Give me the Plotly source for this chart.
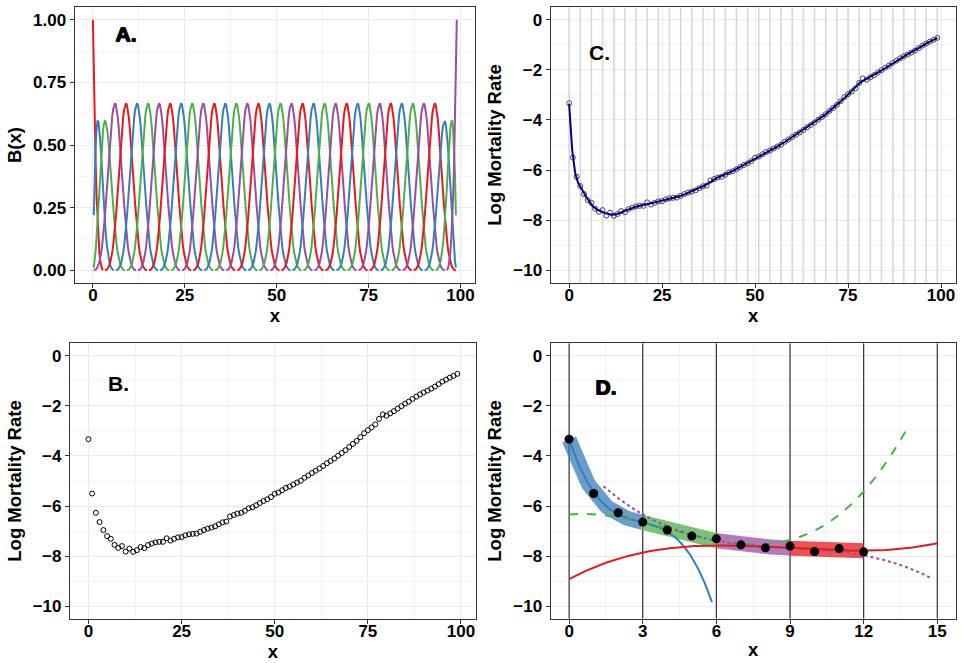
import numpy as np
import plotly.graph_objects as go

# log mortality rates by single year of age
age = list(range(100))
log_rate = [
    -3.33, -5.50, -6.27, -6.64, -6.96, -7.20, -7.31, -7.55, -7.67, -7.60,
    -7.82, -7.70, -7.83, -7.76, -7.64, -7.68, -7.56, -7.50, -7.45, -7.43,
    -7.43, -7.29, -7.38, -7.31, -7.25, -7.24, -7.17, -7.13, -7.11, -7.10,
    -7.03, -6.96, -6.90, -6.86, -6.81, -6.73, -6.65, -6.62, -6.42, -6.36,
    -6.30, -6.27, -6.19, -6.09, -6.05, -5.97, -5.88, -5.80, -5.73, -5.64,
    -5.51, -5.46, -5.37, -5.28, -5.22, -5.14, -5.06, -4.99, -4.87, -4.78,
    -4.68, -4.59, -4.50, -4.40, -4.29, -4.20, -4.10, -3.99, -3.88, -3.77,
    -3.64, -3.52, -3.40, -3.25, -3.09, -2.97, -2.86, -2.74, -2.52, -2.34,
    -2.39, -2.30, -2.21, -2.11, -2.01, -1.91, -1.83, -1.72, -1.63, -1.54,
    -1.46, -1.39, -1.31, -1.23, -1.13, -1.03, -0.95, -0.87, -0.80, -0.72,
]

# spline knots (every 3 years, 0..99)
knots = list(range(0, 100, 3))
set1 = ['#E41A1C', '#377EB8', '#4DAF4A', '#984EA3']

# panel D: local pieces (interval start) and how far each is extended
piece_start = [0, 3, 6, 9]
piece_from = [0.0, 0.0, 1.4, 0.0]
piece_to = [5.82, 13.8, 14.8, 15.0]
piece_dash = ['solid', 'dash', 'dot', 'solid']
zoom_ages = 13

tickfont = dict(family='Liberation Sans', size=17, color='black', weight='bold')
titlefont = dict(family='Liberation Sans', size=18.5, color='black', weight='bold')
labfont = dict(family='Liberation Sans', size=21, color='black', weight='bold')


def bs_basis(x, inner, deg=3):
    t = np.r_[[inner[0]] * deg, inner, [inner[-1]] * deg].astype(float)
    x = np.asarray(x, float)
    n = len(t) - 1
    B = np.zeros((len(x), n))
    for i in range(n):
        B[:, i] = (t[i] <= x) & (x < t[i + 1])
    last = np.where(t[:-1] < t[1:])[0][-1]
    B[x >= t[-1], last] = 1
    for k in range(1, deg + 1):
        Bn = np.zeros((len(x), n - k))
        for i in range(n - k):
            d1 = t[i + k] - t[i]
            d2 = t[i + k + 1] - t[i + 1]
            a = (x - t[i]) / d1 * B[:, i] if d1 > 0 else 0
            b = (t[i + k + 1] - x) / d2 * B[:, i + 1] if d2 > 0 else 0
            Bn[:, i] = a + b
        B = Bn
    return B


fig = go.Figure()

# ---- A. basis functions (zero parts not drawn)
xg = np.linspace(0, 99, 397)
Bg = bs_basis(xg, knots)
for j in range(Bg.shape[1]):
    yb = np.where(Bg[:, j] > 0, Bg[:, j], np.nan)
    fig.add_trace(go.Scatter(x=xg, y=yb, mode='lines', xaxis='x', yaxis='y',
                             line=dict(color=set1[j % 4], width=2), showlegend=False))

# ---- B. raw rates
fig.add_trace(go.Scatter(x=age, y=log_rate, mode='markers', xaxis='x3', yaxis='y3',
                         marker=dict(symbol='circle-open', size=5, color='black',
                                     line=dict(width=1)), showlegend=False))

# ---- C. spline fit
Bd = bs_basis(age, knots)
coef = np.linalg.lstsq(Bd, np.array(log_rate), rcond=None)[0]
xf = np.linspace(0, 99, 991)
yf = bs_basis(xf, knots) @ coef
for k in knots:
    fig.add_trace(go.Scatter(x=[k, k], y=[-10.5, 0.5], mode='lines', xaxis='x2', yaxis='y2',
                             line=dict(color='#D6D6D6', width=1.5), showlegend=False,
                             hoverinfo='skip'))
fig.add_trace(go.Scatter(x=age, y=log_rate, mode='markers', xaxis='x2', yaxis='y2',
                         marker=dict(symbol='circle-open', size=5, color='#444444',
                                     line=dict(width=1)), showlegend=False))
fig.add_trace(go.Scatter(x=xf, y=yf, mode='lines', xaxis='x2', yaxis='y2',
                         line=dict(color='#00008B', width=2), showlegend=False))

# ---- D. local pieces
for k in range(0, 16, 3):
    fig.add_trace(go.Scatter(x=[k, k], y=[-10.5, 0.5], mode='lines', xaxis='x4', yaxis='y4',
                             line=dict(color='#333333', width=1.2), showlegend=False,
                             hoverinfo='skip'))
polys = []
for s in piece_start:
    xs = np.linspace(s, s + 3, 7)
    polys.append(np.polyfit(xs, bs_basis(xs, knots) @ coef, 3))
for i, s in enumerate(piece_start):
    xb = np.linspace(s, s + 3, 60)
    fig.add_trace(go.Scatter(x=xb, y=np.polyval(polys[i], xb), mode='lines',
                             xaxis='x4', yaxis='y4', opacity=0.75,
                             line=dict(color=set1[(i + 1) % 4], width=15),
                             showlegend=False))
for i, s in enumerate(piece_start):
    xe = np.linspace(piece_from[i], piece_to[i], 300)
    ye = np.polyval(polys[i], xe)
    ye = np.where((ye < -10) | (ye > 0), np.nan, ye)
    fig.add_trace(go.Scatter(x=xe, y=ye, mode='lines', xaxis='x4', yaxis='y4',
                             line=dict(color=set1[(i + 1) % 4], width=2, dash=piece_dash[i]),
                             showlegend=False))
fig.add_trace(go.Scatter(x=age[:zoom_ages], y=log_rate[:zoom_ages], mode='markers',
                         xaxis='x4', yaxis='y4',
                         marker=dict(size=9, color='black'), showlegend=False))


def ax(domain, anchor, rng, tickvals, minor, title, standoff, fmt=None, lab_off=0):
    d = dict(domain=domain, anchor=anchor, range=rng, tickvals=tickvals,
             showline=True, mirror=True, linecolor='#333333', linewidth=1.2,
             ticks='outside', ticklen=4, tickwidth=1, tickcolor='#333333',
             ticklabelstandoff=lab_off,
             showgrid=True, gridcolor='#EBEBEB', gridwidth=1.1, zeroline=False,
             minor=dict(tickvals=minor, showgrid=True, gridcolor='#F3F3F3', gridwidth=0.6),
             tickfont=tickfont, title=dict(text=title, font=titlefont, standoff=standoff))
    if fmt:
        d['tickformat'] = fmt
    return d


dA = ([74.7 / 962, 475 / 962], [1 - 282.7 / 663, 1 - 7.3 / 663])
dC = ([550.7 / 962, 955.7 / 962], [1 - 282.7 / 663, 1 - 7.3 / 663])
dB = ([70 / 962, 475.7 / 962], [1 - 618.7 / 663, 1 - 343.3 / 663])
dD = ([550.7 / 962, 955.7 / 962], [1 - 618.7 / 663, 1 - 343.3 / 663])

xt100 = [0, 25, 50, 75, 100]
xm100 = [12.5, 37.5, 62.5, 87.5]
yt = [-10, -8, -6, -4, -2, 0]
ym = [-9, -7, -5, -3, -1]

fig.update_layout(
    width=962, height=663, margin=dict(l=0, r=0, t=0, b=0),
    paper_bgcolor='white', plot_bgcolor='white', showlegend=False,
    xaxis=ax(dA[0], 'y', [-4.95, 103.95], xt100, xm100, 'x', 0, lab_off=-7),
    yaxis=ax(dA[1], 'x', [-0.05, 1.05], [0, 0.25, 0.5, 0.75, 1], [0.125, 0.375, 0.625, 0.875],
             'B(x)', 6, '.2f'),
    xaxis2=ax(dC[0], 'y2', [-4.95, 103.95], xt100, xm100, 'x', 0, lab_off=-7),
    yaxis2=ax(dC[1], 'x2', [-10.5, 0.5], yt, ym, 'Log Mortality Rate', 6),
    xaxis3=ax(dB[0], 'y3', [-4.95, 103.95], xt100, xm100, 'x', 2, lab_off=-7),
    yaxis3=ax(dB[1], 'x3', [-10.5, 0.5], yt, ym, 'Log Mortality Rate', 6),
    xaxis4=ax(dD[0], 'y4', [-0.75, 15.75], [0, 3, 6, 9, 12, 15], [1.5, 4.5, 7.5, 10.5, 13.5],
              'x', 2, lab_off=-7),
    yaxis4=ax(dD[1], 'x4', [-10.5, 0.5], yt, ym, 'Log Mortality Rate', 6),
)

labels = [('A.', 'x', 'y', 8.9, 0.94, True), ('C.', 'x2', 'y2', 8.15, -1.29, False),
          ('B.', 'x3', 'y3', 8.05, -1.09, False), ('D.', 'x4', 'y4', 1.47, -1.25, True)]
for txt, xr, yr, lx, ly, heavy in labels:
    shifts = [(0, 0), (1, 0), (0, 1), (1, 1)] if heavy else [(0, 0)]
    for dx, dy in shifts:
        fig.add_annotation(text=txt, x=lx, y=ly, xref=xr, yref=yr, showarrow=False,
                           font=labfont, xshift=dx, yshift=dy)

# page body has a default 8px margin; drop it so the figure sits at the window's corner
fig.write_html("out.html", config={'displayModeBar': False},
               post_script="document.body.style.margin = '0';")
